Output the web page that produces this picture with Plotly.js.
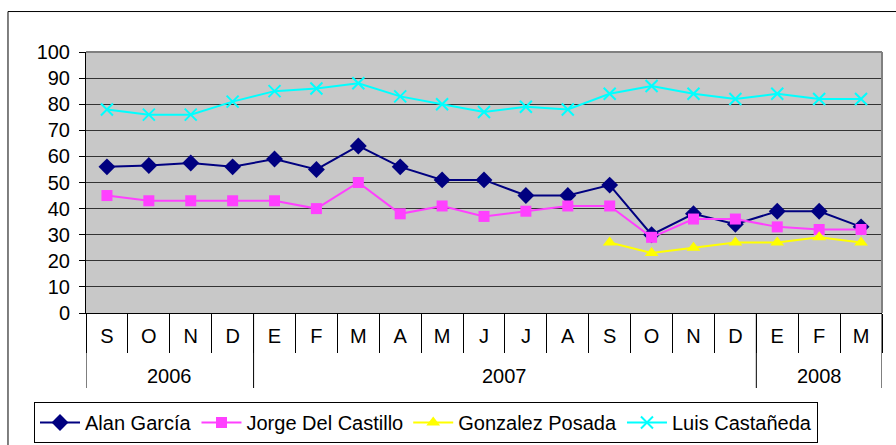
<!DOCTYPE html>
<html>
<head>
<meta charset="utf-8">
<script src="https://cdn.plot.ly/plotly-3.0.1.min.js"></script>
<style>html,body{margin:0;padding:0;background:#fff;}#chart{width:896px;height:445px;}</style>
</head>
<body>
<div id="chart"></div>
<script>
// Month tick labels (zero-width spaces keep repeated letters distinct categories)
var months = ['S','O','N','D',
  'E','F','M','A','\u200bM','J','\u200bJ','\u200bA','\u200bS','\u200bO','\u200bN','\u200bD',
  '\u200b\u200bE','\u200bF','\u200b\u200bM'];
// Year group labels and the month index range they cover
var yearLabels = ['2006', '2007', '2008'];
var yearStart  = [0, 4, 16];
var yearEnd    = [3, 15, 18];

var alanGarcia       = [56, 56.5, 57.5, 56, 59, 55, 64, 56, 51, 51, 45, 45, 49, 30, 38, 34, 39, 39, 33];
var jorgeDelCastillo = [45, 43, 43, 43, 43, 40, 50, 38, 41, 37, 39, 41, 41, 29, 36, 36, 33, 32, 32];
var gonzalezPosada   = [null, null, null, null, null, null, null, null, null, null, null, null, 27, 23, 25, 27, 27, 29, 27];
var luisCastaneda    = [78, 76, 76, 81, 85, 86, 88, 83, 80, 77, 79, 78, 84, 87, 84, 82, 84, 82, 82];

var font = {family: 'Liberation Sans, Arial, sans-serif', size: 20, color: '#000'};

var traces = [
  {name: 'Alan García', x: months, y: alanGarcia, type: 'scatter', mode: 'lines+markers',
   line: {color: '#000080', width: 2}, marker: {symbol: 'diamond', size: 13, color: '#000080'}},
  {name: 'Jorge Del Castillo', x: months, y: jorgeDelCastillo, type: 'scatter', mode: 'lines+markers',
   line: {color: '#FF40FF', width: 2}, marker: {symbol: 'square', size: 11, color: '#FF40FF'}},
  {name: 'Gonzalez Posada', x: months, y: gonzalezPosada, type: 'scatter', mode: 'lines+markers',
   line: {color: '#FFFF00', width: 2}, marker: {symbol: 'triangle-up', size: 12, color: '#FFFF00'}},
  {name: 'Luis Castañeda', x: months, y: luisCastaneda, type: 'scatter', mode: 'lines+markers',
   line: {color: '#00FFFF', width: 2}, marker: {symbol: 'x-thin-open', size: 12, color: '#00FFFF', line: {width: 2, color: '#00FFFF'}}}
];

var plotH = 445 - 52 - 132;
var nCat = months.length;
var shapes = [
  {type: 'line', xref: 'paper', yref: 'paper', x0: 0, x1: 1, y0: 1, y1: 1, line: {color: '#808080', width: 2}},
  {type: 'line', xref: 'paper', yref: 'paper', x0: 1, x1: 1, y0: 0, y1: 1, line: {color: '#808080', width: 2}},
  {type: 'rect', xref: 'paper', yref: 'paper', x0: -0.098, x1: 1.03, y0: -0.6, y1: 1.155, line: {color: '#000', width: 1}, layer: 'below'}
];
var annotations = [];
var divY = -75 / plotH;
for (var i = 0; i < yearLabels.length; i++) {
  shapes.push({type: 'line', xref: 'x', yref: 'paper', x0: yearStart[i] - 0.5, x1: yearStart[i] - 0.5, y0: 0, y1: divY, line: {color: '#000', width: 1}});
  annotations.push({xref: 'x', yref: 'paper', x: (yearStart[i] + yearEnd[i]) / 2, y: -63 / plotH,
    text: yearLabels[i], showarrow: false, font: font, xanchor: 'center', yanchor: 'middle'});
}
shapes.push({type: 'line', xref: 'x', yref: 'paper', x0: yearEnd[yearEnd.length - 1] + 0.5, x1: yearEnd[yearEnd.length - 1] + 0.5, y0: 0, y1: divY, line: {color: '#000', width: 1}});

var layout = {
  width: 896, height: 445,
  margin: {l: 86, r: 14, t: 52, b: 132},
  paper_bgcolor: '#ffffff',
  plot_bgcolor: '#c8c8c8',
  font: font,
  showlegend: true,
  legend: {orientation: 'h', xref: 'container', yref: 'container', x: 34 / 896, y: 1 - 402 / 445,
    xanchor: 'left', yanchor: 'top',
    bordercolor: '#000', borderwidth: 1, bgcolor: '#fff', font: font,
    itemwidth: 40, tracegroupgap: 0},
  xaxis: {type: 'category', range: [-0.5, nCat - 0.5], autorange: false, showgrid: false, zeroline: false,
    showline: true, linecolor: '#000', linewidth: 1,
    ticks: 'outside', tickson: 'boundaries', ticklen: 39, tickcolor: '#000', tickwidth: 1,
    ticklabelstandoff: 5,
    tickfont: font, fixedrange: true, automargin: false},
  yaxis: {range: [0, 100], dtick: 10, tick0: 0, showgrid: true, gridcolor: '#333', gridwidth: 1,
    zeroline: false, showline: true, linecolor: '#000', linewidth: 1,
    ticks: 'outside', ticklen: 6, tickcolor: '#000', ticklabelstandoff: 5,
    tickfont: font, fixedrange: true, automargin: false},
  shapes: shapes,
  annotations: annotations
};

Plotly.newPlot('chart', traces, layout, {displayModeBar: false, staticPlot: true});
</script>
</body>
</html>
